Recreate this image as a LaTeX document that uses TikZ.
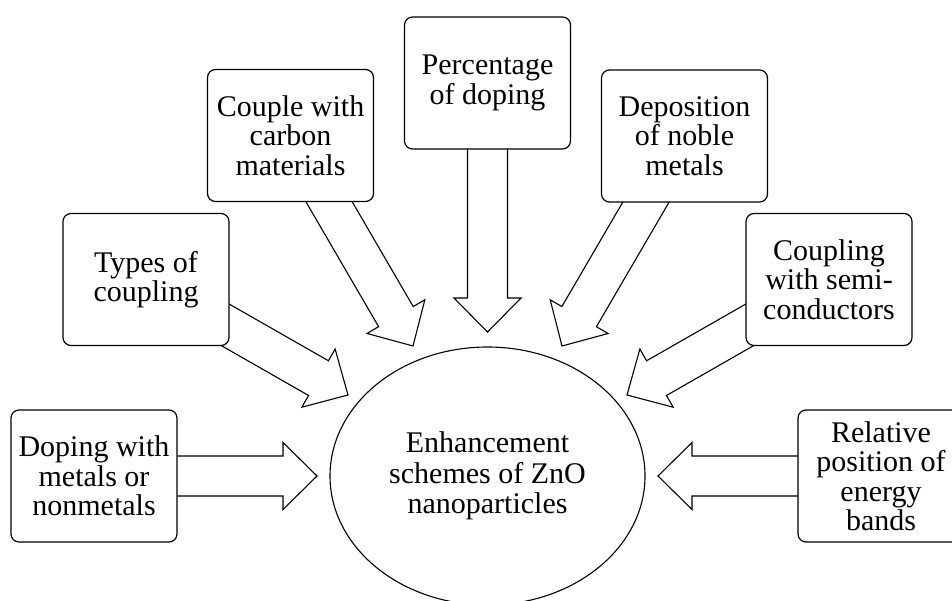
\documentclass[tikz,border=0pt]{standalone}
\usepackage{fontspec}
\setmainfont{Liberation Serif}
\usetikzlibrary{shapes.geometric,calc,backgrounds}
\tikzset{
  box/.style={draw, line width=1.2pt, rounded corners=8pt, fill=white,
    minimum width=166pt, minimum height=132pt, inner sep=2pt, align=center,
    font=\fontsize{30}{29.5}\selectfont},
  hub/.style={draw, ellipse, line width=1.1pt, fill=white, inner sep=0pt,
    minimum width=315pt, minimum height=258pt, align=center,
    font=\fontsize{30}{30.5}\selectfont},
  blockarrow/.style={draw, line width=1.1pt, fill=white, line join=miter},
}
\newcommand{\blockarr}[2]{%
  \path (#1.center) coordinate (ba-s) (#2) coordinate (ba-t);
  \path ($(ba-t)!34pt!(ba-s)$) coordinate (ba-h);
  \draw[blockarrow]
    ($(ba-s)!20pt!90:(ba-t)$) --
    ($(ba-h)!20pt!-90:(ba-s)$) --
    ($(ba-h)!33.5pt!-90:(ba-s)$) --
    (ba-t) --
    ($(ba-h)!33.5pt!90:(ba-s)$) --
    ($(ba-h)!20pt!90:(ba-s)$) --
    ($(ba-s)!20pt!-90:(ba-t)$) -- cycle;
}
\begin{document}
\begin{tikzpicture}[x=1pt,y=-1pt]
\useasboundingbox (0,0) rectangle (952,601);
\node[box] (dop) at (94,476) {Doping with\\metals or\\nonmetals};
\node[box] (rel) at (881,476) {Relative\\position of\\energy\\bands};
\node[box] (typ) at (146,279.5) {Types of\\coupling};
\node[box] (sem) at (829,279.5) {Coupling\\with semi-\\conductors};
\node[box] (car) at (290.5,135.5) {Couple with\\carbon\\materials};
\node[box] (dep) at (684.5,136) {Deposition\\of noble\\metals};
\node[box] (per) at (487.5,83) {Percentage\\of doping};
\node[hub] (zno) at (487.5,476) {Enhancement\\schemes of ZnO\\nanoparticles};
\coordinate (tdop) at (317,476);
\coordinate (trel) at (658,476);
\coordinate (ttyp) at (348,395);
\coordinate (tsem) at (627,395);
\coordinate (tcar) at (413,346);
\coordinate (tdep) at (562,346);
\coordinate (tper) at (487.5,332);
\begin{scope}[on background layer]
\blockarr{dop}{tdop}
\blockarr{rel}{trel}
\blockarr{typ}{ttyp}
\blockarr{sem}{tsem}
\blockarr{car}{tcar}
\blockarr{dep}{tdep}
\blockarr{per}{tper}
\end{scope}
\end{tikzpicture}
\end{document}
